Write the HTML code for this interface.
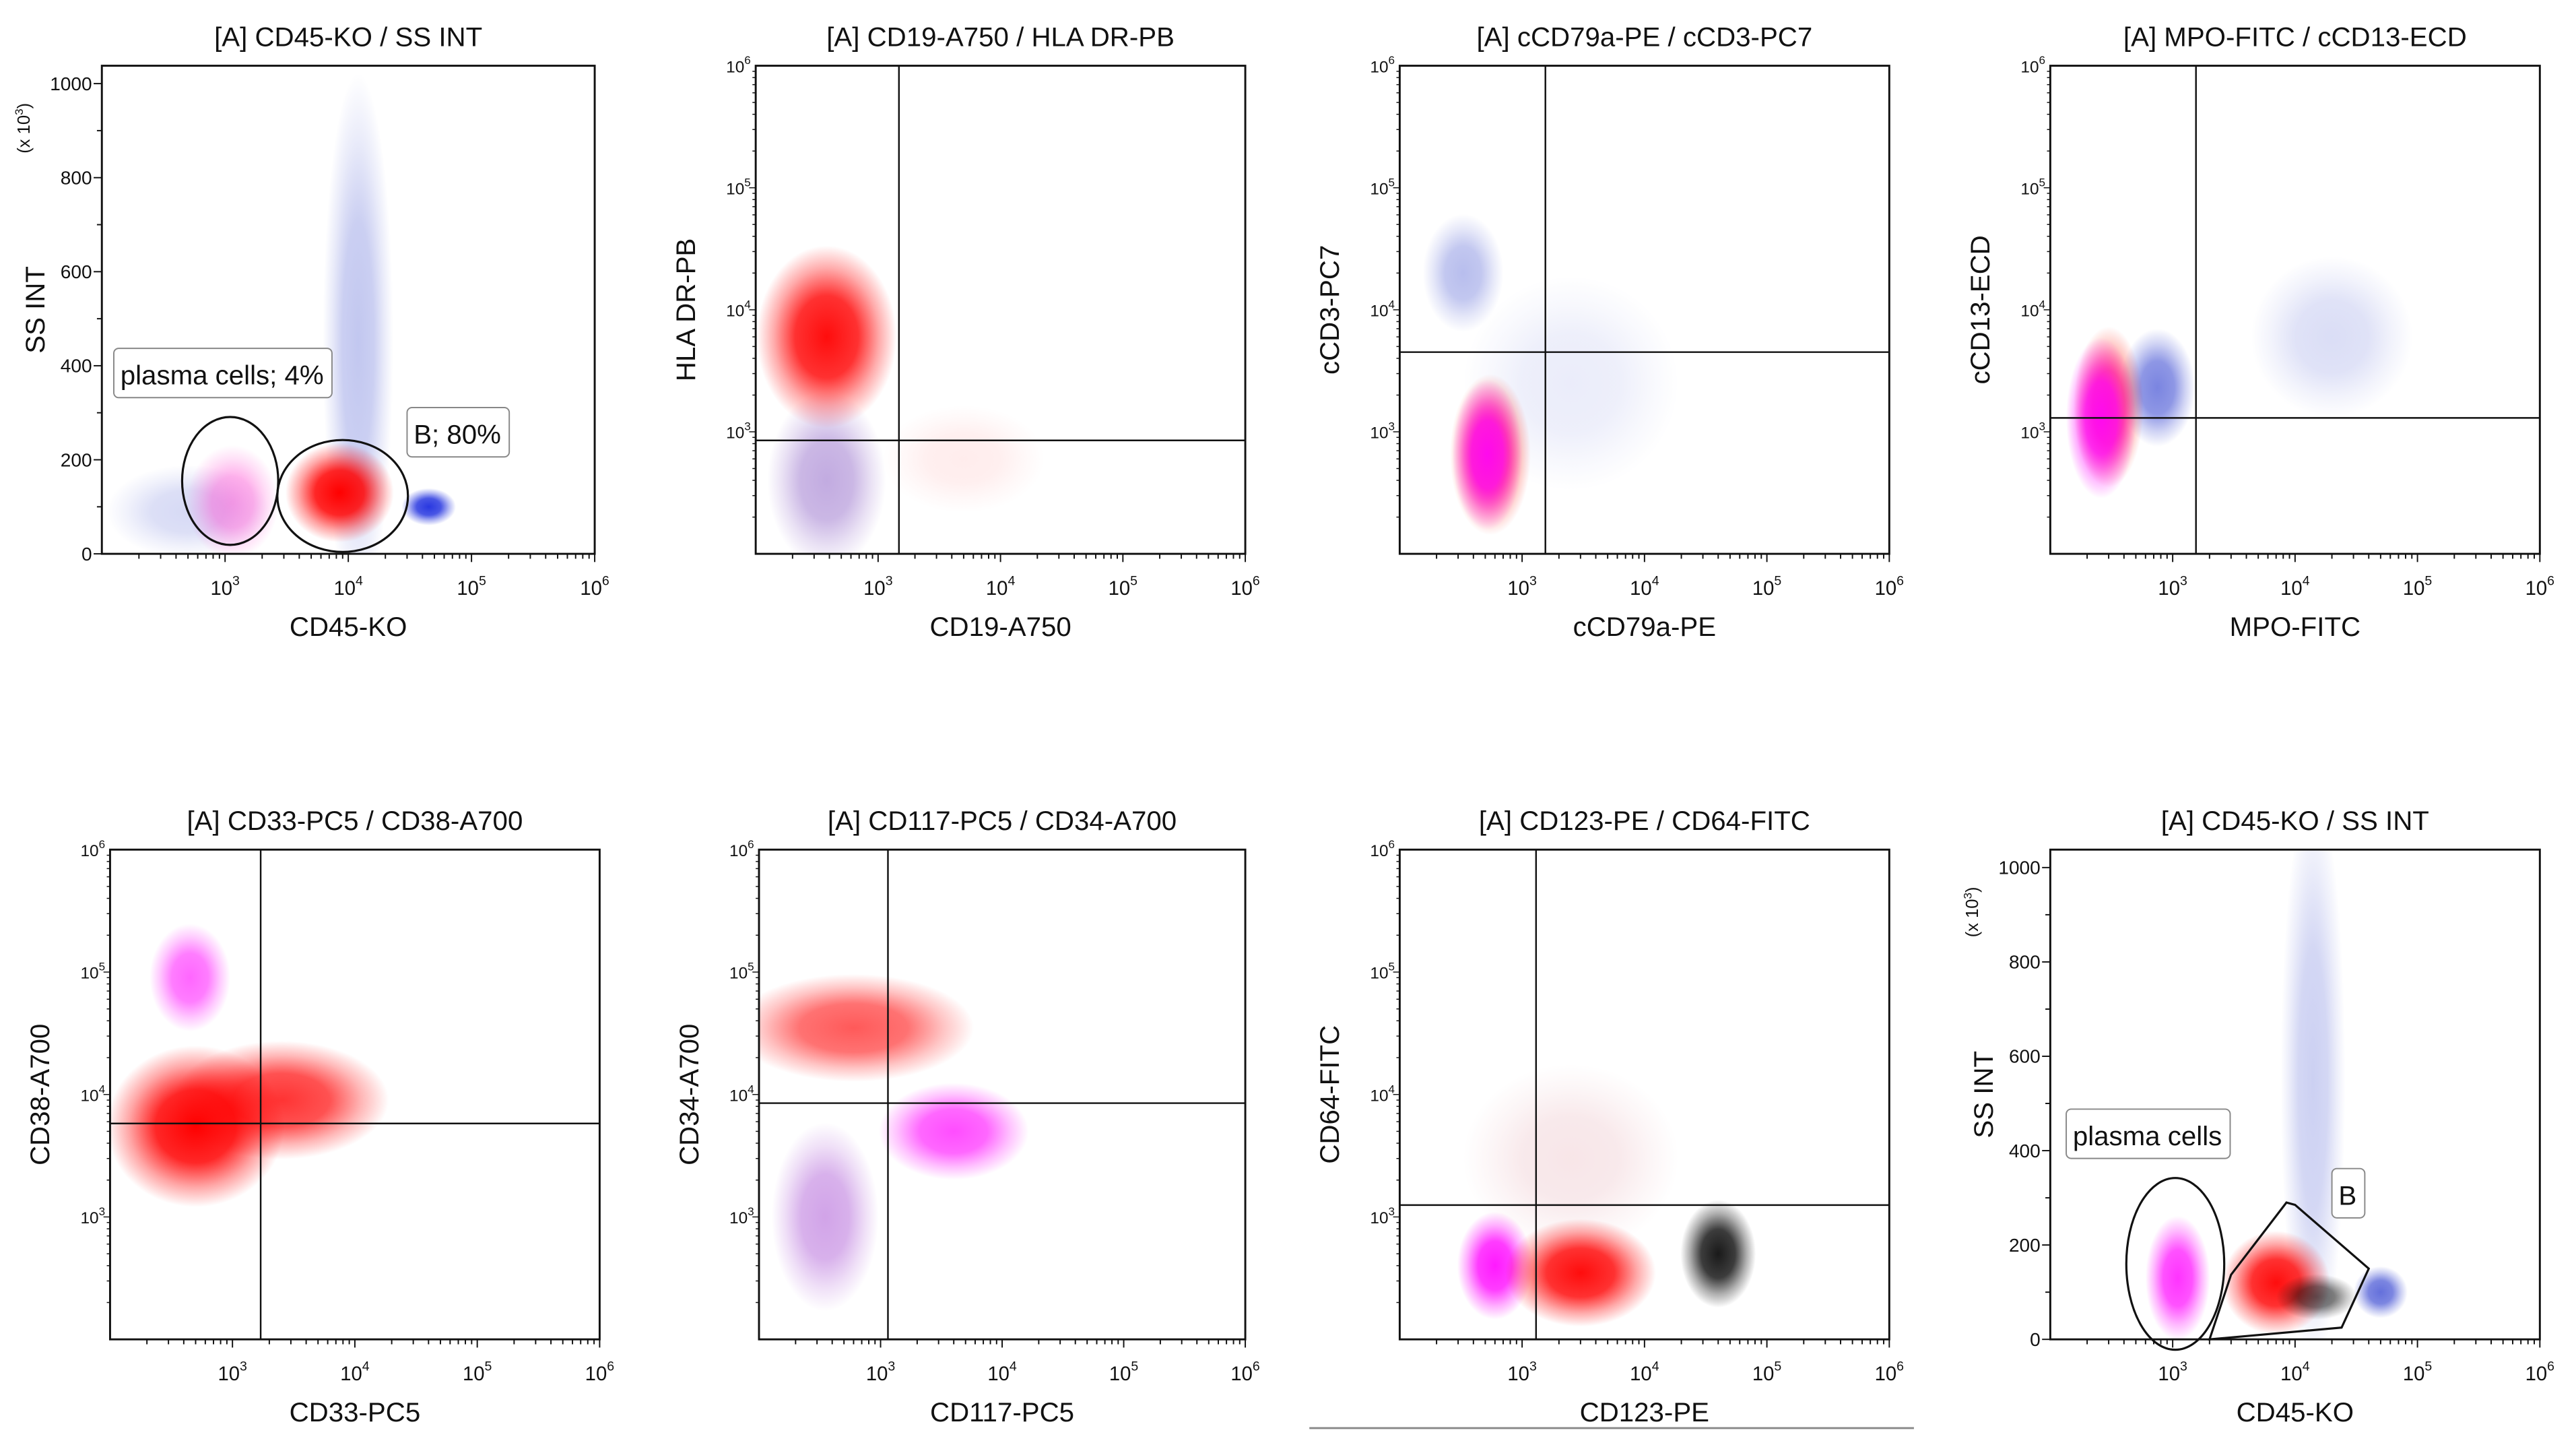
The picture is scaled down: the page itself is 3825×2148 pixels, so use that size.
<!DOCTYPE html>
<html><head><meta charset="utf-8"><style>
html,body{margin:0;padding:0;background:#fff;}
svg{display:block;}
text{font-family:"Liberation Sans",sans-serif;fill:#111;}
</style></head><body>
<svg id="fig" xmlns="http://www.w3.org/2000/svg" width="3825" height="2148" viewBox="0 0 1568 880.5" preserveAspectRatio="none">
<defs id="defs"></defs>
<line x1="797" y1="869" x2="1165" y2="869" stroke="#888" stroke-width="1.2"/>
</svg>
<script>
// ---- data (values in axis units; spreads in decades or linear units) ----
const p1Clusters = [
  {c:'#3344cc', x:12000, y:450, sx:0.13, sy:260, op:0.3},
  {c:'#3344cc', x:500, y:90, sx:0.3, sy:45, op:0.2},
  {c:'#ff33cc', x:1150, y:110, sx:0.17, sy:55, op:0.45},
  {c:'#ff0000', x:8500, y:130, sx:0.2, sy:48, op:1},
  {c:'#1122dd', x:45000, y:100, sx:0.1, sy:18, op:0.9}
];
const p2Clusters = [
  {c:'#ff4444', x:5000, y:600, sx:0.3, sy:0.2, op:0.1},
  {c:'#7744bb', x:380, y:400, sx:0.22, sy:0.33, op:0.45},
  {c:'#ff0000', x:380, y:6000, sx:0.26, sy:0.34, op:0.95}
];
const p3Clusters = [
  {c:'#3344cc', x:330, y:20000, sx:0.15, sy:0.22, op:0.35},
  {c:'#3344cc', x:2500, y:2500, sx:0.4, sy:0.4, op:0.1},
  {c:'#ff1100', x:550, y:650, sx:0.15, sy:0.3, op:0.7},
  {c:'#ff00ff', x:520, y:650, sx:0.13, sy:0.28, op:0.9}
];
const p4Clusters = [
  {c:'#3344cc', x:20000, y:6000, sx:0.3, sy:0.3, op:0.18},
  {c:'#2233cc', x:750, y:2300, sx:0.14, sy:0.22, op:0.6},
  {c:'#ff1100', x:300, y:1600, sx:0.13, sy:0.3, op:0.7},
  {c:'#ff00ff', x:260, y:1300, sx:0.13, sy:0.3, op:0.9}
];
const p5Clusters = [
  {c:'#ff00ff', x:450, y:90000, sx:0.15, sy:0.2, op:0.6},
  {c:'#ff0000', x:2500, y:9000, sx:0.4, sy:0.22, op:0.8},
  {c:'#ff0000', x:500, y:5500, sx:0.33, sy:0.3, op:1}
];
const p6Clusters = [
  {c:'#9933cc', x:350, y:1000, sx:0.2, sy:0.35, op:0.45},
  {c:'#ff2222', x:600, y:35000, sx:0.45, sy:0.2, op:0.75},
  {c:'#ff00ff', x:4000, y:5000, sx:0.28, sy:0.18, op:0.7}
];
const p7Clusters = [
  {c:'#cc5566', x:2500, y:3000, sx:0.4, sy:0.35, op:0.15},
  {c:'#ff00ff', x:600, y:400, sx:0.14, sy:0.2, op:0.9},
  {c:'#ff0000', x:3000, y:350, sx:0.28, sy:0.2, op:0.95},
  {c:'#000000', x:40000, y:500, sx:0.14, sy:0.2, op:0.9}
];
const p8Clusters = [
  {c:'#3344cc', x:14000, y:550, sx:0.12, sy:280, op:0.25},
  {c:'#ff00ff', x:1100, y:130, sx:0.12, sy:60, op:0.8},
  {c:'#ff0000', x:7000, y:120, sx:0.2, sy:50, op:0.95},
  {c:'#000000', x:15000, y:90, sx:0.15, sy:22, op:0.6},
  {c:'#2233cc', x:50000, y:100, sx:0.1, sy:25, op:0.7}
];
const quadX = [null, 1480, 1550, 1550, 1700, 1150, 1300, null];
const quadY = [null, 850, 4500, 1300, 5800, 8500, 1250, null];
const titles = ['[A] CD45-KO / SS INT','[A] CD19-A750 / HLA DR-PB','[A] cCD79a-PE / cCD3-PC7','[A] MPO-FITC / cCD13-ECD',
  '[A] CD33-PC5 / CD38-A700','[A] CD117-PC5 / CD34-A700','[A] CD123-PE / CD64-FITC','[A] CD45-KO / SS INT'];
const xLabels = ['CD45-KO','CD19-A750','cCD79a-PE','MPO-FITC','CD33-PC5','CD117-PC5','CD123-PE','CD45-KO'];
const yLabels = ['SS INT','HLA DR-PB','cCD3-PC7','cCD13-ECD','CD38-A700','CD34-A700','CD64-FITC','SS INT'];
const linTicks = [0,200,400,600,800,1000];
const logTicks = [3,4,5,6];

// ---- layout ----
const frames = [
  {x:62,y:40,w:300,h:297,lin:true},{x:460,y:40,w:298,h:297},{x:852,y:40,w:298,h:297},{x:1248,y:40,w:298,h:297},
  {x:67,y:517,w:298,h:298},{x:462,y:517,w:296,h:298},{x:852,y:517,w:298,h:298},{x:1248,y:517,w:298,h:298,lin:true}
];
const clusters = [p1Clusters,p2Clusters,p3Clusters,p4Clusters,p5Clusters,p6Clusters,p7Clusters,p8Clusters];
const LO=2, HI=6, LINMAX=1038;
const NS='http://www.w3.org/2000/svg';
const svg=document.getElementById('fig'), defs=document.getElementById('defs');
function mk(tag,attrs,parent){const e=document.createElementNS(NS,tag);for(const k in attrs)e.setAttribute(k,attrs[k]);(parent||svg).appendChild(e);return e;}
function xS(f,v){return f.x+(Math.log10(v)-LO)/(HI-LO)*f.w;}
function yS(f,v){return f.lin? f.y+f.h-v/LINMAX*f.h : f.y+f.h-(Math.log10(v)-LO)/(HI-LO)*f.h;}
function xDec(f){return f.w/(HI-LO);}
function yUnit(f,s){return f.lin? s/LINMAX*f.h : s/(HI-LO)*f.h;}

let gid=0;
frames.forEach((f,i)=>{
  const g=mk('g',{});
  
  
  const cp=mk('clipPath',{id:'cp'+i},defs); mk('rect',{x:f.x,y:f.y,width:f.w,height:f.h},cp);
  const pg=mk('g',{'clip-path':'url(#cp'+i+')'},g);
  clusters[i].forEach((c,j)=>{
    const id='gr'+(gid++);
    const rg=mk('radialGradient',{id:id},defs);
    mk('stop',{offset:'0','stop-color':c.c,'stop-opacity':c.op},rg);
    mk('stop',{offset:'0.45','stop-color':c.c,'stop-opacity':c.op*0.85},rg);
    mk('stop',{offset:'0.75','stop-color':c.c,'stop-opacity':c.op*0.35},rg);
    mk('stop',{offset:'1','stop-color':c.c,'stop-opacity':0},rg);
    const e=mk('ellipse',{cx:xS(f,c.x),cy:yS(f,c.y),rx:c.sx*xDec(f)*2.2,ry:yUnit(f,c.sy)*2.2,fill:'url(#'+id+')'},pg);
    
    
  });
  if(quadX[i]!==null){
    const vx=xS(f,quadX[i]); mk('line',{x1:vx,y1:f.y,x2:vx,y2:f.y+f.h,stroke:'#111','stroke-width':1},g);
    const hy=yS(f,quadY[i]); mk('line',{x1:f.x,y1:hy,x2:f.x+f.w,y2:hy,stroke:'#111','stroke-width':1},g);
  }
  const fr=mk('rect',{x:f.x,y:f.y,width:f.w,height:f.h,fill:'none',stroke:'#111','stroke-width':1.2},g);
  
  
  for(let d=LO; d<HI; d++) for(let m=1;m<=9;m++){
    const v=m*Math.pow(10,d); if(d===LO&&m===1) continue;
    const px=xS(f,v); mk('line',{x1:px,y1:f.y+f.h,x2:px,y2:f.y+f.h+(m===1?5:3),stroke:'#111','stroke-width':0.8},g);
  }
  mk('line',{x1:xS(f,1e6),y1:f.y+f.h,x2:xS(f,1e6),y2:f.y+f.h+5,stroke:'#111','stroke-width':0.8},g);
  logTicks.forEach(d=>{
    const t=mk('text',{x:xS(f,Math.pow(10,d)),y:f.y+f.h+25,'text-anchor':'middle','font-size':12},g);
    t.textContent='10'; const s=mk('tspan',{dy:-6,'font-size':8},t); s.textContent=d;
  });
  if(f.lin){
    for(let v=0; v<=1000; v+=100){
      const py=yS(f,v); mk('line',{x1:f.x,y1:py,x2:f.x-(v%200===0?5:3),y2:py,stroke:'#111','stroke-width':0.8},g);
    }
    linTicks.forEach(v=>{const t=mk('text',{x:f.x-6,y:yS(f,v)+4,'text-anchor':'end','font-size':11.5},g); t.textContent=v;});
    const u=mk('text',{transform:'translate('+(f.x-44)+','+(f.y+38)+') rotate(-90)','text-anchor':'middle','font-size':10.5},g);
    u.textContent='(x 10'; const us=mk('tspan',{dy:-4,'font-size':7},u); us.textContent='3'; const uc=mk('tspan',{dy:4},u); uc.textContent=')';
  } else {
    for(let d=LO; d<HI; d++) for(let m=1;m<=9;m++){
      const v=m*Math.pow(10,d); if(d===LO&&m===1) continue;
      const py=yS(f,v); mk('line',{x1:f.x,y1:py,x2:f.x-(m===1?4:2),y2:py,stroke:'#111','stroke-width':0.6},g);
    }
    logTicks.forEach(d=>{
      const t=mk('text',{x:f.x-3,y:yS(f,Math.pow(10,d))+4,'text-anchor':'end','font-size':10},g);
      t.textContent='10'; const s=mk('tspan',{dy:-5,'font-size':7},t); s.textContent=d;
    });
  }
  const tt=mk('text',{x:f.x+f.w/2,y:f.y-12,'text-anchor':'middle','font-size':16.5},g);
  tt.textContent=titles[i]; 
  const xl=mk('text',{x:f.x+f.w/2,y:f.y+f.h+50,'text-anchor':'middle','font-size':16.5},g);
  xl.textContent=xLabels[i]; 
  const yx=f.lin? f.x-35 : f.x-37;
  const yl=mk('text',{transform:'translate('+yx+','+(f.y+f.h/2)+') rotate(-90)','text-anchor':'middle','font-size':16.5},g);
  yl.textContent=yLabels[i]; 
});

// ---- gates (in data units) ----
function gateEllipse(fi,x,y,sxDec,syUnit,name){
  const f=frames[fi];
  const e=mk('ellipse',{cx:xS(f,x),cy:yS(f,y),rx:sxDec*xDec(f),ry:yUnit(f,syUnit),fill:'none',stroke:'#111','stroke-width':1.3});
   
}
function label(fi,x,y,txt,name){
  const f=frames[fi];
  const px=xS(f,x), py=yS(f,y);
  const t=mk('text',{x:px+4,y:py+22,'font-size':16.5}); t.textContent=txt;
  const w=t.getComputedTextLength? t.getComputedTextLength():txt.length*9;
  const r=mk('rect',{x:px,y:py,width:w+9,height:30,rx:3,fill:'#fff',stroke:'#888','stroke-width':0.8});
  svg.insertBefore(r,t);
   
}
gateEllipse(0,1100,155,0.39,136,'plasma-cell-gate');
gateEllipse(0,9000,123,0.53,119,'b-cell-gate');
label(0,125,437,'plasma cells; 4%','plasma-label');
label(0,30000,311,'B; 80%','b-label');
gateEllipse(7,1050,160,0.40,182,'plasma-cell-gate-2');
(function(){
  const f=frames[7];
  const gx=[2000,3000,8500,10000,40000,24000], gy=[0,137,290,285,150,25];
  const pts=gx.map((v,k)=>xS(f,v)+','+yS(f,gy[k])).join(' ');
  const p=mk('polygon',{points:pts,fill:'none',stroke:'#111','stroke-width':1.3});
   
})();
label(7,135,488,'plasma cells','plasma-label-2');
label(7,20000,362,'B','b-label-2');
</script>
</body></html>
